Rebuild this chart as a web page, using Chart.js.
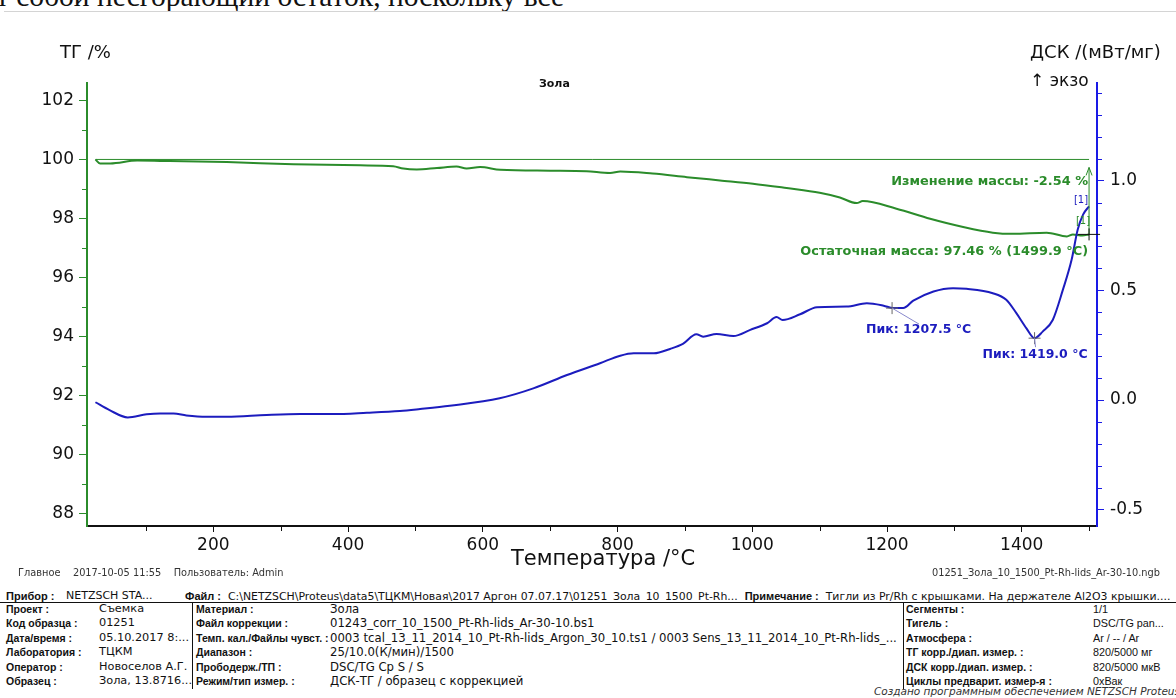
<!DOCTYPE html>
<html>
<head>
<meta charset="utf-8">
<script src="https://cdn.jsdelivr.net/npm/chart.js@4/dist/chart.umd.min.js"></script>
<style>
  body { margin: 0; width: 1176px; height: 698px; overflow: hidden; background: #fff; position: relative; font-family: "Liberation Sans", Arial, sans-serif; color: #111; }
  .t { position: absolute; white-space: nowrap; }
  #cut { left: -4px; top: -18px; font-family: "Liberation Serif", serif; font-size: 29.5px; line-height: 29.5px; color: #111; }
  #rule { position: absolute; left: 4px; right: 0; top: 11px; height: 1px; background: #d4d4d4; }
  #wrap { position: absolute; left: 0; top: 0; width: 1176px; height: 580px; }
  .ax { font-family: "DejaVu Sans", sans-serif; font-size: 18px; line-height: 20px; }
  .small { font-family: "DejaVu Sans", sans-serif; font-size: 9.8px; color: #333; }
  .tb { font-size: 10.5px; line-height: 14.4px; font-weight: bold; }
  .tv { font-family: "DejaVu Sans", sans-serif; font-size: 11.7px; line-height: 14.4px; }
  .vl { position: absolute; width: 1px; background: #111; top: 602px; height: 87px; }
</style>
</head>
<body>
<div id="cut" class="t">т собой несгорающий остаток, поскольку все</div>
<div id="rule"></div>
<div id="wrap"><canvas id="chart" width="1176" height="580"></canvas></div>

<div class="t ax" style="left:60px;top:42px;">ТГ /%</div>
<div class="t ax" style="left:1030px;top:42px;">ДСК /(мВт/мг)</div>
<div class="t ax" style="left:1030px;top:70px;font-size:17px;">↑ экзо</div>
<div class="t" style="left:539px;top:77px;font-family:'DejaVu Sans';font-size:11px;font-weight:bold;">Зола</div>
<div class="t ax" style="left:511px;top:546px;font-size:21px;line-height:24px;">Температура /°C</div>

<div class="t small" style="left:18px;top:567px;">Главное &nbsp;&nbsp;&nbsp;2017-10-05 11:55 &nbsp;&nbsp;&nbsp;Пользователь: Admin</div>
<div class="t small" style="right:16px;top:567px;">01251_Зола_10_1500_Pt-Rh-lids_Ar-30-10.ngb</div>

<div class="t tb" style="left:6px;top:589px;font-size:11px;">Прибор :</div>
<div class="t tv" style="left:66px;top:589px;font-size:11px;">NETZSCH STA...</div>
<div class="t tb" style="left:185px;top:589px;font-size:11px;">Файл :</div>
<div class="t tv" style="left:228px;top:589px;font-size:10.9px;">C:\NETZSCH\Proteus\data5\ТЦКМ\Новая\2017 Аргон 07.07.17\01251_Зола_10_1500_Pt-Rh... &nbsp;<span style="font-family:'Liberation Sans';font-weight:bold;font-size:11px;">Примечание :</span> &nbsp;Тигли из Pr/Rh с крышками. На держателе Al2O3 крышки....</div>
<div style="position:absolute;left:0;right:0;top:602px;height:1px;background:#111;"></div>
<div class="vl" style="left:192px;"></div>
<div class="vl" style="left:903px;"></div>

<div class="t tb" style="left:6px;top:602px;">Проект :<br>Код образца :<br>Дата/время :<br>Лаборатория :<br>Оператор :<br>Образец :</div>
<div class="t tv" style="left:99px;top:602px;font-size:11.3px;">Съемка<br>01251<br>05.10.2017 8:...<br>ТЦКМ<br>Новоселов А.Г.<br>Зола, 13.8716...</div>
<div class="t tb" style="left:196px;top:602px;">Материал :<br>Файл коррекции :<br>Темп. кал./Файлы чувст. :<br>Диапазон :<br>Прободерж./ТП :<br>Режим/тип измер. :</div>
<div class="t tv" style="left:330px;top:602px;">Зола<br>01243_corr_10_1500_Pt-Rh-lids_Ar-30-10.bs1<br>0003 tcal_13_11_2014_10_Pt-Rh-lids_Argon_30_10.ts1 / 0003 Sens_13_11_2014_10_Pt-Rh-lids_...<br>25/10.0(К/мин)/1500<br>DSC/TG Cp S / S<br>ДСК-ТГ / образец с коррекцией</div>
<div class="t tb" style="left:906px;top:602px;">Сегменты :<br>Тигель :<br>Атмосфера :<br>ТГ корр./диап. измер. :<br>ДСК корр./диап. измер. :<br>Циклы предварит. измер-я :</div>
<div class="t" style="left:1093px;top:602px;font-size:10.8px;line-height:14.4px;">1/1<br>DSC/TG pan...<br>Ar / -- / Ar<br>820/5000 мг<br>820/5000 мкВ<br>0xВак</div>
<div class="t" style="right:-4px;top:685px;font-family:'DejaVu Sans';font-size:10.5px;font-style:italic;color:#333;">Создано программным обеспечением NETZSCH Proteus</div>

<script>
// TG curve, mass %
const tgTemp = [25, 32, 47, 87, 121, 220, 319, 418, 467, 482, 502, 532, 561, 576, 596, 626, 700, 754, 789, 804, 852, 903, 952, 1001, 1051, 1100, 1130, 1155, 1164, 1214, 1264, 1313, 1357, 1387, 1437, 1467, 1476, 1490, 1499.9];
const tgMass = [100.0, 99.86, 99.86, 99.96, 99.95, 99.91, 99.84, 99.80, 99.77, 99.69, 99.66, 99.71, 99.76, 99.69, 99.74, 99.65, 99.62, 99.60, 99.54, 99.59, 99.52, 99.40, 99.29, 99.18, 99.03, 98.87, 98.71, 98.52, 98.59, 98.33, 97.99, 97.71, 97.52, 97.48, 97.52, 97.39, 97.46, 97.42, 97.46];

// DSC curve, mW/mg
const dscTemp = [25, 46, 73, 101, 121, 141, 160, 190, 220, 279, 329, 378, 428, 477, 507, 551, 625, 675, 725, 774, 804, 824, 854, 878, 897, 917, 927, 947, 972, 997, 1022, 1036, 1045, 1071, 1096, 1140, 1170, 1195, 1209, 1224, 1239, 1269, 1298, 1318, 1357, 1377, 1392, 1407, 1419, 1431, 1446, 1461, 1474, 1483, 1491, 1499.9];
const dscSignal = [-0.01, -0.046, -0.079, -0.065, -0.061, -0.061, -0.07, -0.076, -0.076, -0.068, -0.064, -0.064, -0.058, -0.05, -0.041, -0.026, 0.008, 0.053, 0.114, 0.168, 0.202, 0.213, 0.213, 0.233, 0.256, 0.300, 0.289, 0.301, 0.292, 0.320, 0.350, 0.378, 0.365, 0.391, 0.423, 0.426, 0.441, 0.430, 0.419, 0.419, 0.453, 0.495, 0.510, 0.507, 0.487, 0.457, 0.396, 0.327, 0.282, 0.312, 0.365, 0.502, 0.639, 0.776, 0.845, 0.883];

// initial mass reference line
const baseTemp = [25, 1499.9];
const baseMass = [100, 100];

// axes
const tempTicks = [200, 400, 600, 800, 1000, 1200, 1400];
const tempMinor = [100, 300, 500, 700, 900, 1100, 1300, 1500];
const tgTicks = [88, 90, 92, 94, 96, 98, 100, 102];
const tgMinor = [89, 91, 93, 95, 97, 99, 101];
const dscTicks = [-0.5, 0.0, 0.5, 1.0];
const dscMinor = [-0.4, -0.3, -0.2, -0.1, 0.1, 0.2, 0.3, 0.4, 0.6, 0.7, 0.8, 0.9, 1.1, 1.2, 1.3, 1.4];

// evaluation results
const peakTemp = [1207.5, 1419.0];
const peakDsc = [0.419, 0.282];
const peakLabels = ['Пик: 1207.5 °C', 'Пик: 1419.0 °C'];
const massChange = -2.54;
const residualMass = 97.46;
const residualTemp = 1499.9;

const GREEN = '#2b8c2b';
const BLUE = '#1c1cbe';
const AXIS_BLUE = '#1a1ae6';

const toPoints = (xs, ys) => xs.map((v, i) => ({ x: v, y: ys[i] }));
const setTicks = (list) => (scale) => { scale.ticks = list.map(v => ({ value: v })); };

const extras = {
    id: 'extras',
    afterDraw(chart) {
        const { ctx, chartArea: area } = chart;
        const x = chart.scales.x, y = chart.scales.y, y2 = chart.scales.y2;
        ctx.save();
        ctx.lineWidth = 1;

        // minor ticks
        ctx.strokeStyle = '#111';
        tempMinor.forEach(v => {
            const px = Math.round(x.getPixelForValue(v)) + 0.5;
            ctx.beginPath(); ctx.moveTo(px, area.bottom); ctx.lineTo(px, area.bottom + 5); ctx.stroke();
        });
        ctx.strokeStyle = GREEN;
        tgMinor.forEach(v => {
            const py = Math.round(y.getPixelForValue(v)) + 0.5;
            ctx.beginPath(); ctx.moveTo(area.left - 5, py); ctx.lineTo(area.left, py); ctx.stroke();
        });
        ctx.strokeStyle = AXIS_BLUE;
        dscMinor.forEach(v => {
            const py = Math.round(y2.getPixelForValue(v)) + 0.5;
            ctx.beginPath(); ctx.moveTo(area.right, py); ctx.lineTo(area.right + 5, py); ctx.stroke();
        });

        // peaks
        ctx.font = 'bold 12.5px "DejaVu Sans"';
        ctx.textBaseline = 'middle';
        peakTemp.forEach((t, i) => {
            const px = x.getPixelForValue(t), py = y2.getPixelForValue(peakDsc[i]);
            ctx.strokeStyle = '#666';
            ctx.beginPath();
            ctx.moveTo(px - 6, py); ctx.lineTo(px + 6, py);
            ctx.moveTo(px, py - 6); ctx.lineTo(px, py + 6);
            ctx.stroke();
            ctx.strokeStyle = '#8888cc';
            ctx.beginPath();
            ctx.fillStyle = BLUE;
            if (i === 0) {
                ctx.moveTo(px, py); ctx.lineTo(px + 27, py + 16); ctx.stroke();
                ctx.textAlign = 'left';
                ctx.fillText(peakLabels[i], px - 26, py + 22);
            } else {
                ctx.moveTo(px, py); ctx.lineTo(px + 1, py + 9); ctx.stroke();
                ctx.textAlign = 'right';
                ctx.fillText(peakLabels[i], px + 53, py + 17);
            }
        });

        // mass change
        const ex = x.getPixelForValue(residualTemp);
        const ey = y.getPixelForValue(residualMass);
        const top = y.getPixelForValue(residualMass - massChange) + 8;
        ctx.strokeStyle = GREEN;
        ctx.fillStyle = GREEN;
        ctx.beginPath(); ctx.moveTo(ex, ey); ctx.lineTo(ex, top); ctx.stroke();
        ctx.beginPath(); ctx.moveTo(ex - 3, top + 8); ctx.lineTo(ex, top); ctx.lineTo(ex + 3, top + 8); ctx.stroke();
        ctx.strokeStyle = '#111';
        ctx.beginPath();
        ctx.moveTo(ex - 11, ey); ctx.lineTo(ex + 11, ey);
        ctx.moveTo(ex, ey - 6); ctx.lineTo(ex, ey + 6);
        ctx.stroke();

        ctx.font = 'bold 12.9px "DejaVu Sans"';
        ctx.textAlign = 'right';
        ctx.fillText('Изменение массы: ' + massChange.toFixed(2) + ' %', ex - 1, top + 14);
        ctx.fillText('Остаточная масса: ' + residualMass.toFixed(2) + ' % (' + residualTemp.toFixed(1) + ' °C)', ex - 1, ey + 17);

        ctx.font = '10px "DejaVu Sans"';
        ctx.fillText('[1]', ex + 1, ey - 13);
        ctx.fillStyle = BLUE;
        ctx.fillText('[1]', ex - 1, y2.getPixelForValue(dscSignal[dscSignal.length - 1]) - 6);
        ctx.restore();
    }
};

Chart.defaults.font.family = '"DejaVu Sans", sans-serif';
Chart.defaults.color = '#111';

new Chart(document.getElementById('chart'), {
    type: 'line',
    data: {
        datasets: [
            {
                label: 'ДСК',
                data: toPoints(dscTemp, dscSignal),
                yAxisID: 'y2',
                borderColor: BLUE,
                borderWidth: 2,
                pointRadius: 0,
                cubicInterpolationMode: 'monotone',
                order: 0
            },
            {
                label: 'ТГ',
                data: toPoints(tgTemp, tgMass),
                yAxisID: 'y',
                borderColor: GREEN,
                borderWidth: 2,
                pointRadius: 0,
                cubicInterpolationMode: 'monotone',
                order: 1
            },
            {
                label: '100 %',
                data: toPoints(baseTemp, baseMass),
                yAxisID: 'y',
                borderColor: GREEN,
                borderWidth: 1,
                pointRadius: 0,
                order: 2
            }
        ]
    },
    options: {
        responsive: false,
        animation: false,
        devicePixelRatio: 1,
        layout: { padding: { top: 83, left: 0, right: 0, bottom: 0 } },
        plugins: { legend: { display: false }, tooltip: { enabled: false } },
        scales: {
            x: {
                type: 'linear',
                min: 12.5,
                max: 1511.7,
                afterBuildTicks: setTicks(tempTicks),
                afterFit: (s) => { s.height = 54; },
                grid: { drawOnChartArea: false, tickLength: 6, tickColor: '#111', tickWidth: 1 },
                border: { color: '#111', width: 2 },
                ticks: { font: { size: 17 }, padding: 3, maxRotation: 0, callback: v => String(v) }
            },
            y: {
                position: 'left',
                min: 87.58,
                max: 102.59,
                afterBuildTicks: setTicks(tgTicks),
                afterFit: (s) => { s.width = 87; },
                grid: { drawOnChartArea: false, tickLength: 8, tickColor: GREEN, tickWidth: 1 },
                border: { color: GREEN, width: 2 },
                ticks: { font: { size: 17 }, padding: 5, callback: v => String(v) }
            },
            y2: {
                position: 'right',
                min: -0.574,
                max: 1.445,
                afterBuildTicks: setTicks(dscTicks),
                afterFit: (s) => { s.width = 79; },
                grid: { drawOnChartArea: false, tickLength: 7, tickColor: AXIS_BLUE, tickWidth: 1 },
                border: { color: AXIS_BLUE, width: 2 },
                ticks: { font: { size: 17 }, padding: 6, callback: v => Number(v).toFixed(1) }
            }
        }
    },
    plugins: [extras]
});
</script>
</body>
</html>
